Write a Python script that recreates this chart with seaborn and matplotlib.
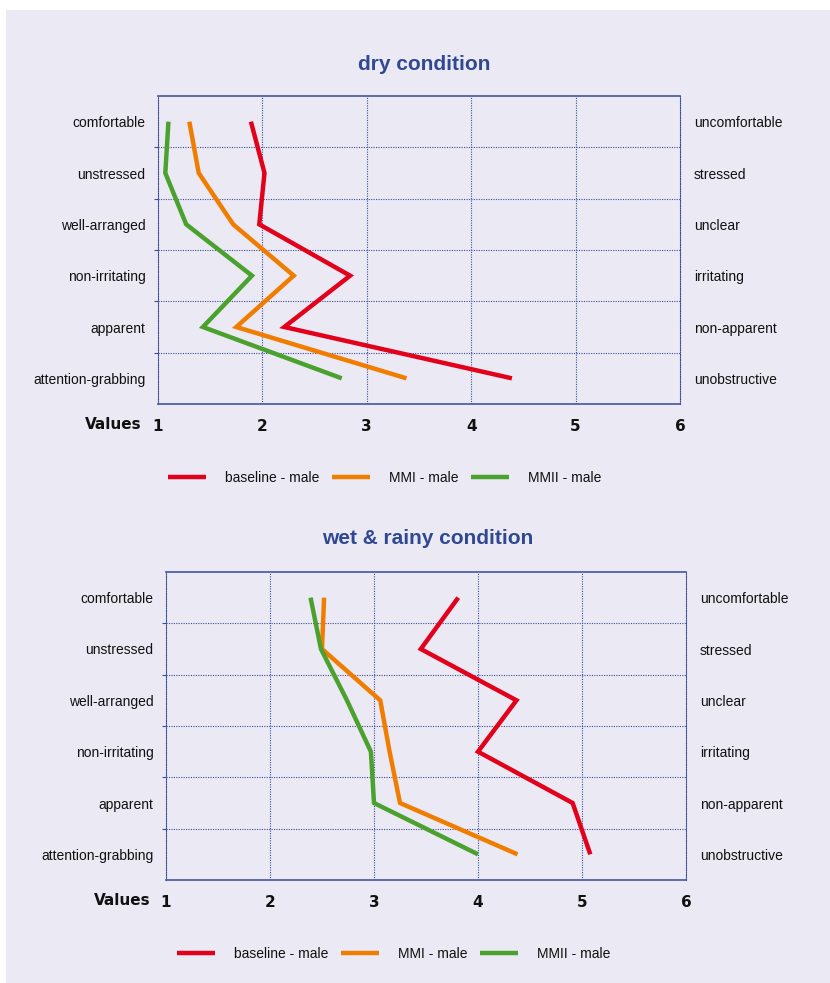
import matplotlib
matplotlib.use("Agg")
import matplotlib.pyplot as plt
import seaborn as sns
import pandas as pd
import numpy as np
from matplotlib.patches import Rectangle

# ---------------- data ----------------
left_labels = ["comfortable", "unstressed", "well-arranged", "non-irritating",
               "apparent", "attention-grabbing"]
right_labels = ["uncomfortable", "stressed", "unclear", "irritating",
                "non-apparent", "unobstructive"]
series_names = ["baseline - male", "MMI - male", "MMII - male"]
x_ticks = [1, 2, 3, 4, 5, 6]

dry_baseline = [1.89, 2.02, 1.97, 2.84, 2.21, 4.39]
dry_mmi = [1.30, 1.39, 1.72, 2.30, 1.75, 3.38]
dry_mmii = [1.10, 1.07, 1.27, 1.90, 1.43, 2.76]

wet_baseline = [3.81, 3.45, 4.37, 4.00, 4.91, 5.08]
wet_mmi = [2.52, 2.50, 3.06, 3.15, 3.25, 4.38]
wet_mmii = [2.39, 2.49, 2.74, 2.97, 3.00, 4.00]

titles = ["dry condition", "wet & rainy condition"]

# ---------------- style ----------------
sns.set_theme(style="white")
plt.rcParams['font.family'] = ['Liberation Sans Narrow', 'Liberation Sans', 'DejaVu Sans']
plt.rcParams['text.color'] = '#111111'
plt.rcParams['xtick.color'] = '#111111'
plt.rcParams['ytick.color'] = '#111111'
plt.rcParams['xtick.labelcolor'] = '#111111'
plt.rcParams['ytick.labelcolor'] = '#111111'

BG = "#eae9f4"
GRID = "#3d4c9c"
TITLE_C = "#2f4891"
palette = {"baseline - male": "#e2001a", "MMI - male": "#f07d00", "MMII - male": "#4ba12d"}

fig = plt.figure(figsize=(8.3, 9.83), dpi=100)
fig.patch.set_facecolor("white")
fig.add_artist(Rectangle((6 / 830, 0), 1, 1 - 10 / 983, transform=fig.transFigure,
                         facecolor=BG, edgecolor="none", zorder=-10))

W, H = 830, 983


def make_df(b, m1, m2):
    rows = []
    for name, vals in zip(series_names, [b, m1, m2]):
        for i, v in enumerate(vals):
            rows.append({"series": name, "value": v, "pos": i})
    return pd.DataFrame(rows)


def draw(ax_rect, df, title, title_xy, legend_xy, left_pad, values_x):
    ax = fig.add_axes(ax_rect)
    ax.set_facecolor(BG)
    sns.lineplot(data=df, x="value", y="pos", hue="series", orient="y", sort=False,
                 palette=palette, linewidth=3.2, ax=ax, legend=True,
                 solid_joinstyle="miter", solid_capstyle="butt")
    ax.set_xlim(1, 6)
    ax.set_ylim(5.5, -0.5)
    ax.set_xticks(x_ticks)
    ax.set_xticklabels([str(t) for t in x_ticks], fontweight="bold", fontsize=11,
                       family=['Liberation Sans Narrow', 'DejaVu Sans'])
    ax.set_yticks(range(6))
    ax.set_yticklabels(left_labels, fontsize=10)
    ax.set_yticks(np.arange(0.5, 5.0, 1.0), minor=True)
    ax.tick_params(axis="y", which="major", length=0, pad=left_pad)
    ax.tick_params(axis="y", which="minor", length=3, color=GRID, width=0.8, direction="out")
    ax.tick_params(axis="x", which="major", length=0, pad=11)
    ax.set_xlabel("")
    ax.set_ylabel("")
    ax.grid(False)
    for x in x_ticks[1:-1]:
        ax.axvline(x, color=GRID, linestyle=(0, (1, 1.2)), linewidth=0.8, zorder=0)
    for y in np.arange(0.5, 5.0, 1.0):
        ax.axhline(y, color=GRID, linestyle=(0, (1, 1.2)), linewidth=0.8, zorder=0)
    for s in ["top", "bottom"]:
        ax.spines[s].set_color("#4656a0")
        ax.spines[s].set_linewidth(1.2)
    for s in ["left", "right"]:
        ax.spines[s].set_color(GRID)
        ax.spines[s].set_linewidth(0.8)
        ax.spines[s].set_linestyle((0, (1, 1.2)))

    ax2 = ax.twinx()
    ax2.set_ylim(5.5, -0.5)
    ax2.set_yticks(range(6))
    ax2.set_yticklabels(right_labels, fontsize=10)
    ax2.tick_params(axis="y", length=0, pad=10)
    for s in ax2.spines.values():
        s.set_visible(False)

    ax.text(values_x, -0.068, "Values", transform=ax.transAxes, ha="center", va="center",
            fontweight="bold", fontsize=11, family=['Liberation Sans Narrow', 'DejaVu Sans'])

    fig.text(title_xy[0] / W, 1 - title_xy[1] / H, title, ha="center", va="center",
             fontsize=15, fontweight="bold", color=TITLE_C,
             family=['Liberation Sans', 'DejaVu Sans'])

    handles, labels = ax.get_legend_handles_labels()
    ax.get_legend().remove()
    fig.legend(handles, labels, loc="center", ncol=3, frameon=False, fontsize=10,
               bbox_to_anchor=(legend_xy[0] / W, 1 - legend_xy[1] / H),
               handlelength=2.7, handletextpad=1.4, columnspacing=0.9)
    return ax


df_dry = make_df(dry_baseline, dry_mmi, dry_mmii)
df_wet = make_df(wet_baseline, wet_mmi, wet_mmii)

draw([158 / W, 1 - 404 / H, 522 / W, 308 / H], df_dry, titles[0], (424, 64), (385, 478), 9, -0.085)
draw([166 / W, 1 - 880 / H, 520 / W, 308 / H], df_wet, titles[1], (428, 539), (394, 954), 9, -0.085)

fig.savefig("out.png", dpi=100, facecolor=fig.get_facecolor())
